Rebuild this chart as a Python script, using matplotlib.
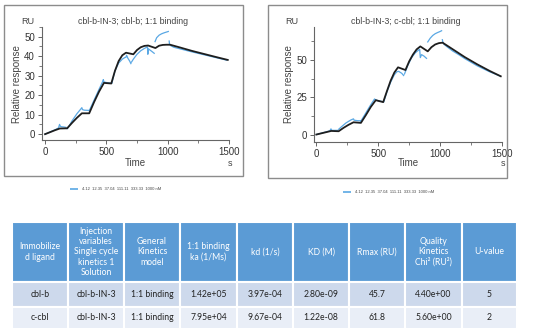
import numpy as np
import matplotlib
matplotlib.use("Agg")
import matplotlib.pyplot as plt
from matplotlib.patches import Rectangle
from matplotlib.ticker import MultipleLocator

plt.rcParams['font.family'] = ['Liberation Sans', 'DejaVu Sans']

# ---- sensorgram data ----
nan = np.nan
concs = ['4.12', '12.35', '37.04', '111.11', '333.33', '1000 nM']

fit_t = [0, 40, 80, 120, 180, 220, 260, 300, 360, 400, 440, 480, 540, 570, 600, 630,
         660, 720, 750, 780, 810, 840, 900, 930, 960, 990, 1020, 1100, 1200, 1300,
         1400, 1490]
fit_cblb = [0, 1.0, 2.0, 2.9, 3.0, 5.8, 8.4, 10.7, 10.7, 16.5, 21.8, 26.3, 26.0, 32.5,
            37.5, 40.5, 41.8, 41.0, 43.2, 44.6, 45.3, 45.5, 44.2, 45.4, 45.8, 45.9, 45.9,
            44.5, 42.7, 41.1, 39.5, 38.1]
fit_ccbl = [0, 0.8, 1.6, 2.4, 2.2, 4.5, 6.5, 8.2, 7.8, 13.0, 18.5, 23.0, 21.7, 29.0,
            36.0, 41.5, 45.0, 43.2, 49.0, 53.5, 57.0, 59.0, 55.7, 58.5, 60.3, 61.2, 61.5,
            57.2, 51.8, 47.0, 42.6, 39.0]

obs_t_cblb = [0, 40, 80, 110, 118, 125, 135, 150, 170, nan,
              180, 190, 220, 260, 290, 300, 305, 320, 355, nan,
              360, 400, 440, 470, 475, 480, 500, 540, nan,
              545, 570, 600, 630, 650, 660, 665, 675, 690, 700, nan,
              705, 720, 750, 780, 810, 835, 838, 842, 870, 890, nan,
              897, 910, 930, 950, 970, 990, 1005, nan,
              1012, 1015, 1025, 1050, 1100, 1200, 1300, 1400, 1480]
obs_cblb = [0, 1.1, 2.2, 3.2, 5.0, 4.0, 3.8, 3.7, 3.5, nan,
            2.8, 3.5, 6.8, 10.5, 12.8, 13.6, 12.6, 12.3, 12.2, nan,
            12.0, 17.5, 23.0, 27.0, 28.0, 26.8, 26.5, 26.2, nan,
            26.2, 32.5, 36.5, 38.5, 39.3, 39.5, 40.5, 39.0, 37.5, 36.2, nan,
            37.0, 38.5, 41.0, 42.8, 44.0, 44.8, 41.0, 43.8, 42.5, 41.5, nan,
            47.5, 49.5, 50.8, 51.5, 52.0, 52.4, 52.7, nan,
            47.8, 46.2, 45.4, 44.6, 43.8, 42.2, 40.7, 39.2, 38.0]

obs_t_ccbl = [0, 40, 80, 110, 118, 125, 140, 170, nan,
              180, 200, 240, 280, 300, 305, 330, 355, nan,
              360, 400, 440, 470, 480, 500, 540, nan,
              545, 570, 600, 630, 650, 665, 690, 705, nan,
              712, 740, 770, 800, 830, 835, 840, 850, 870, 890, nan,
              900, 920, 940, 960, 980, 1000, 1012, nan,
              1018, 1022, 1030, 1060, 1100, 1150, 1200, 1300, 1400, 1480]
obs_ccbl = [0, 0.9, 1.8, 2.5, 3.8, 2.8, 2.8, 2.8, nan,
            3.5, 5.0, 7.8, 9.8, 10.5, 9.6, 9.3, 9.2, nan,
            9.0, 14.5, 20.0, 23.8, 23.2, 22.6, 22.0, nan,
            22.0, 28.5, 35.0, 40.0, 42.0, 42.3, 41.0, 39.5, nan,
            40.5, 46.5, 51.5, 54.8, 56.8, 57.0, 51.5, 53.5, 52.5, 51.0, nan,
            62.0, 64.5, 66.3, 67.5, 68.3, 69.0, 69.5, nan,
            63.5, 62.0, 60.5, 58.5, 56.0, 53.5, 50.8, 46.0, 42.0, 39.3]

# ---- table data ----
col_headers = ['Immobilize\nd ligand', 'Injection\nvariables\nSingle cycle\nkinetics 1\nSolution',
               'General\nKinetics\nmodel', '1:1 binding\nka (1/Ms)', 'kd (1/s)', 'KD (M)',
               'Rmax (RU)', 'Quality\nKinetics\nChi² (RU²)', 'U-value']
row_cblb = ['cbl-b', 'cbl-b-IN-3', '1:1 binding', '1.42e+05', '3.97e-04', '2.80e-09', '45.7', '4.40e+00', '5']
row_ccbl = ['c-cbl', 'cbl-b-IN-3', '1:1 binding', '7.95e+04', '9.67e-04', '1.22e-08', '61.8', '5.60e+00', '2']

W, H = 534, 334
fig = plt.figure(figsize=(W / 100, H / 100), dpi=100)
fig.patch.set_facecolor('white')

BLUE = '#5aa8e4'
TXT = '#444444'


def px_axes(x0, y0, x1, y1):
    return fig.add_axes([x0 / W, 1 - y1 / H, (x1 - x0) / W, (y1 - y0) / H])


def panel(box, ax_box, xlim, ylim, ymaj, ymin, t_obs, obs, fit, title, legend_x, legend_y):
    bx0, by0, bx1, by1 = box
    fig.add_artist(Rectangle((bx0 / W, 1 - by1 / H), (bx1 - bx0) / W, (by1 - by0) / H,
                             transform=fig.transFigure, fill=False, ec='#8c8c8c', lw=1.0))
    ax = px_axes(*ax_box)
    ax.plot(t_obs, obs, color=BLUE, lw=0.9)
    ax.plot(fit_t, fit, color='#1e1e1e', lw=1.3)
    ax.set_xlim(*xlim)
    ax.set_ylim(*ylim)
    ax.xaxis.set_major_locator(MultipleLocator(500))
    ax.xaxis.set_minor_locator(MultipleLocator(250))
    ax.yaxis.set_major_locator(MultipleLocator(ymaj))
    ax.yaxis.set_minor_locator(MultipleLocator(ymin))
    for s in ['top', 'right']:
        ax.spines[s].set_visible(False)
    for s in ['left', 'bottom']:
        ax.spines[s].set_color('#666666')
        ax.spines[s].set_linewidth(0.8)
    ax.tick_params(which='major', length=3, width=0.7, color='#666666', labelsize=7,
                   labelcolor='#333333', pad=2)
    ax.tick_params(which='minor', length=2, width=0.6, color='#666666')
    ax.patch.set_alpha(0)
    x0, y0, x1, y1 = ax_box
    cx = (x0 + x1) / 2
    fig.text((bx0 + 17) / W, 1 - 21 / H, 'RU', fontsize=6.5, color=TXT, va='center')
    fig.text((cx - 2) / W, 1 - 21 / H, title, fontsize=6.3, color=TXT, ha='center', va='center')
    fig.text((x0 - 25) / W, 1 - 84 / H, 'Relative response', fontsize=7, color=TXT,
             rotation=90, ha='center', va='center')
    fig.text(cx / W, 1 - 163 / H, 'Time', fontsize=7, color=TXT, ha='center', va='center')
    fig.text((x1 + 1) / W, 1 - 164 / H, 's', fontsize=6.5, color=TXT, ha='center', va='center')
    # legend
    lg = fig.add_axes([legend_x / W, 1 - (legend_y + 4) / H, 8 / W, 8 / H])
    lg.plot([0, 1], [0.5, 0.5], color=BLUE, lw=1.2)
    lg.set_xlim(0, 1)
    lg.set_ylim(0, 1)
    lg.axis('off')
    fig.text((legend_x + 12) / W, 1 - legend_y / H, '  '.join(concs), fontsize=3,
             color=TXT, va='center')


panel((4, 5, 243, 176), (42, 27, 229, 140), (-25, 1500), (-3, 55), 10, 5,
      obs_t_cblb, obs_cblb, fit_cblb, 'cbl-b-IN-3; cbl-b; 1:1 binding', 70, 189)
panel((268, 5, 507, 178), (314, 27, 502, 142), (-19, 1500), (-5, 72), 25, 12.5,
      obs_t_ccbl, obs_ccbl, fit_ccbl, 'cbl-b-IN-3; c-cbl; 1:1 binding', 343, 192)

# ---- table ----
tab = fig.add_axes([0, 0, 1, 1])
tab.set_xlim(0, W)
tab.set_ylim(H, 0)
tab.axis('off')
tab.patch.set_alpha(0)
col_x = [12, 68, 124, 180, 237, 293, 349, 405, 462, 517]
row_y = [222, 282, 307, 329]
fills = ['#5b9bd5', '#cdd9ec', '#e9eef7']
rows = [col_headers, row_cblb, row_ccbl]
for r, cells in enumerate(rows):
    for c, txt in enumerate(cells):
        x0, x1 = col_x[c], col_x[c + 1]
        y0, y1 = row_y[r], row_y[r + 1]
        tab.add_patch(Rectangle((x0, y0), x1 - x0, y1 - y0, fc=fills[r], ec='white', lw=1.5))
        tab.text((x0 + x1) / 2, (y0 + y1) / 2, txt, ha='center', va='center',
                 fontsize=6.2, family=['Lato', 'DejaVu Sans'], linespacing=1.15,
                 color='white' if r == 0 else '#222222')

fig.savefig('out.png', dpi=100)
